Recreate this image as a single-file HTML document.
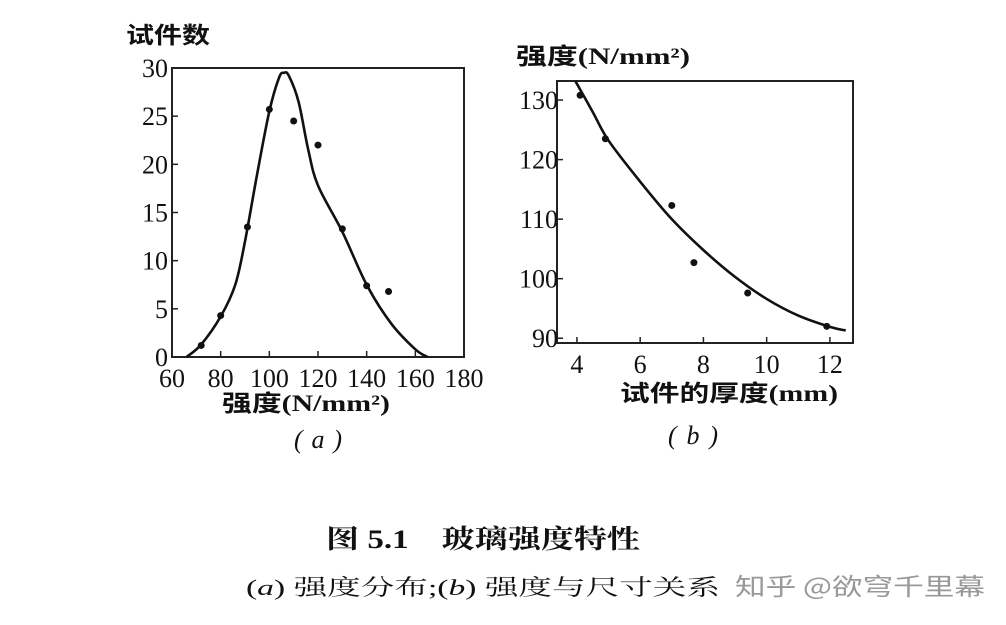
<!DOCTYPE html>
<html><head><meta charset="utf-8">
<style>
body{margin:0;background:#fff;width:1006px;height:625px;overflow:hidden}
svg{display:block}
.n{font-family:"Liberation Serif","Noto Serif CJK SC",serif;font-size:26px;fill:#111}
.c{font-family:"Liberation Serif","Noto Sans CJK SC",sans-serif;font-weight:bold;font-size:23px;fill:#111}
</style></head><body>
<svg id="chart" width="1006" height="625">
<g id="ga"></g>
<g id="gb"></g>
<text x="126" y="43" class="c" textLength="84" lengthAdjust="spacingAndGlyphs">试件数</text>
<text x="222" y="411" class="c" textLength="168" lengthAdjust="spacingAndGlyphs">强度(N/mm²)</text>
<text x="294" y="448" class="n" font-style="italic" textLength="48">( a )</text>
<text x="516" y="64" class="c" textLength="174" lengthAdjust="spacingAndGlyphs">强度(N/mm²)</text>
<text x="620" y="401" class="c" textLength="218" lengthAdjust="spacingAndGlyphs">试件的厚度(mm)</text>
<text x="668" y="444" class="n" font-style="italic" textLength="50">( b )</text>
<text x="326" y="548" font-family="Liberation Serif,'Noto Serif CJK SC',serif" font-size="26" font-weight="bold" fill="#111" textLength="314" lengthAdjust="spacingAndGlyphs">图 5.1　玻璃强度特性</text>
<text x="246" y="595" font-family="Liberation Serif,'Noto Serif CJK SC',serif" font-size="22" fill="#111" textLength="474" lengthAdjust="spacingAndGlyphs">(<tspan font-style="italic">a</tspan>) 强度分布;(<tspan font-style="italic">b</tspan>) 强度与尺寸关系</text>
<text x="735" y="595" font-family="'Noto Sans CJK SC',sans-serif" font-size="24" fill="#999" textLength="250" lengthAdjust="spacingAndGlyphs">知乎 @欲穹千里幕</text>
</svg>
<script>
const aXTicks=[60,80,100,120,140,160,180];
const aYTicks=[0,5,10,15,20,25,30];
const aPointX=[72,80,91,100,110,120,130,140,149];
const aPointY=[1.2,4.3,13.5,25.7,24.5,22,13.3,7.4,6.8];
const aCurveX=[66,72,80,86,90,95,100,104,106,108,112,116,120,130,140,150,160,165];
const aCurveY=[0,1.3,4.2,7.5,12,19,25.5,29,29.5,29.2,26.5,21.5,17.8,13,7.5,3.5,0.8,0];
const bXTicks=[4,6,8,10,12];
const bYTicks=[90,100,110,120,130];
const bPointX=[4.1,4.9,7.0,7.7,9.4,11.9];
const bPointY=[130.8,123.5,112.3,102.7,97.6,92];
const bCurveX=[3.95,4.5,5,6,7,8,9,10,11,12,12.5];
const bCurveY=[133.2,128,123.2,116.3,110,104.8,100.3,96.6,93.8,91.9,91.3];
const NS="http://www.w3.org/2000/svg";
function mk(p,t,a){const e=document.createElementNS(NS,t);for(const k in a)e.setAttribute(k,a[k]);p.appendChild(e);return e;}
function path(pts){let d="M"+pts[0][0]+","+pts[0][1];for(let i=0;i<pts.length-1;i++){const p0=pts[i-1]||pts[i],p1=pts[i],p2=pts[i+1],p3=pts[i+2]||p2;d+=" C"+(p1[0]+(p2[0]-p0[0])/6)+","+(p1[1]+(p2[1]-p0[1])/6)+" "+(p2[0]-(p3[0]-p1[0])/6)+","+(p2[1]-(p3[1]-p1[1])/6)+" "+p2[0]+","+p2[1];}return d;}
function draw(g,box,xr,yr,xt,yt,px,py,cx,cy,pre,ylx){
 const sx=v=>box[0]+(v-xr[0])/(xr[1]-xr[0])*(box[2]-box[0]);
 const sy=v=>box[3]-(v-yr[0])/(yr[1]-yr[0])*(box[3]-box[1]);
 const r=mk(g,"rect",{x:box[0],y:box[1],width:box[2]-box[0],height:box[3]-box[1],fill:"none",stroke:"#222","stroke-width":2});
 
 xt.forEach(v=>{const l=mk(g,"line",{x1:sx(v),x2:sx(v),y1:box[3],y2:box[3]-6,stroke:"#222","stroke-width":1.5});
  
  const t=mk(g,"text",{x:sx(v),y:box[3]+30,"text-anchor":"middle",class:"n"});t.textContent=v;
  });
 yt.forEach(v=>{const l=mk(g,"line",{x1:box[0],x2:box[0]+6,y1:sy(v),y2:sy(v),stroke:"#222","stroke-width":1.5});
  
  const t=mk(g,"text",{x:ylx,y:sy(v)+9,"text-anchor":"end",class:"n"});t.textContent=v;
  });
 const c=mk(g,"path",{d:path(cx.map((v,i)=>[sx(v),sy(cy[i])])),fill:"none",stroke:"#111","stroke-width":2.6});
 
 px.forEach((v,i)=>{const d=mk(g,"circle",{cx:sx(v),cy:sy(py[i]),r:3.5,fill:"#111"});
  });
}
draw(document.getElementById("ga"),[172,68,464,357],[60,180],[0,30],aXTicks,aYTicks,aPointX,aPointY,aCurveX,aCurveY,"chart-a",168);
draw(document.getElementById("gb"),[557,81,853,343],[3.37,12.73],[89.2,133.2],bXTicks,bYTicks,bPointX,bPointY,bCurveX,bCurveY,"chart-b",558);
</script>
</body></html>
